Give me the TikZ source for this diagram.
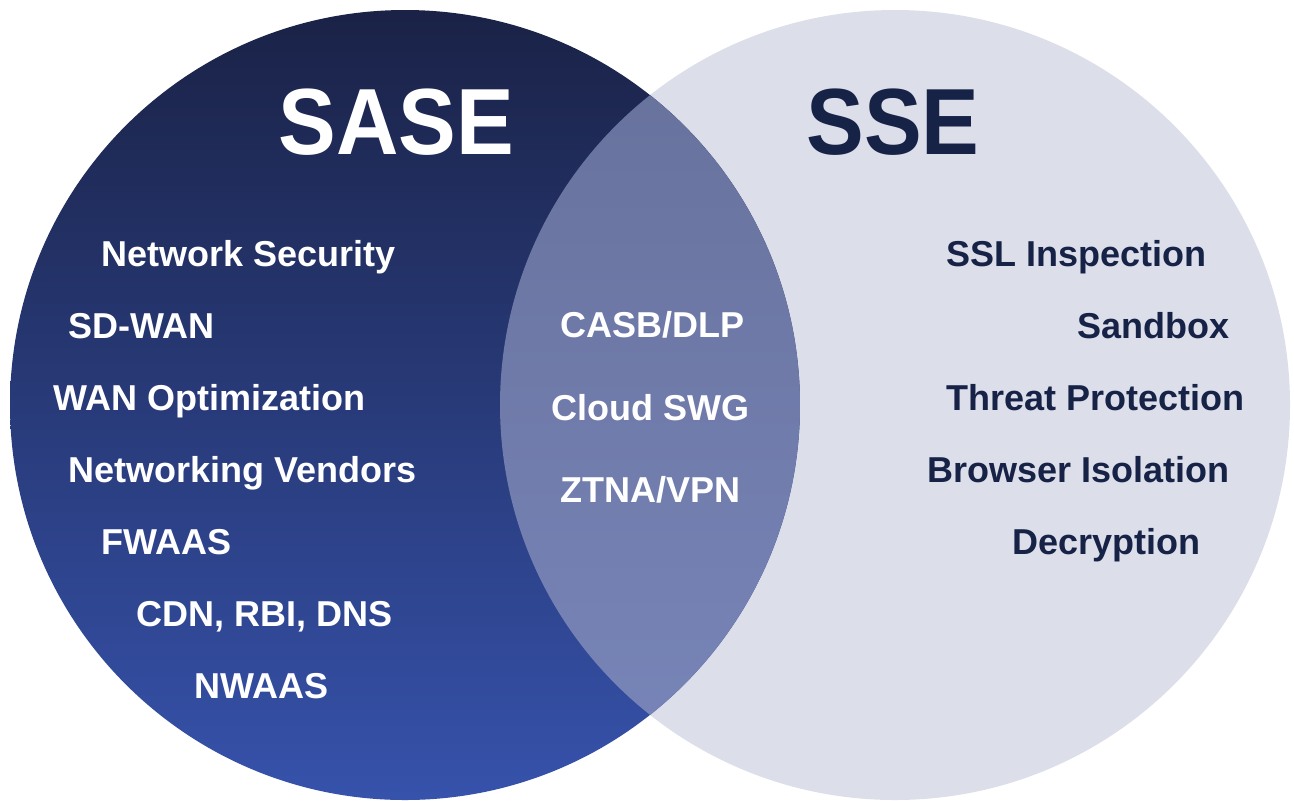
\documentclass[tikz,border=0pt]{standalone}
\usepackage{fontspec}
\setmainfont{Liberation Sans}
\newfontfamily\titlefont[FakeStretch=0.92]{Liberation Sans}
\usetikzlibrary{positioning}

\definecolor{saseTop}{HTML}{1A2246}
\definecolor{saseBot}{HTML}{3652AB}
\definecolor{midTop}{HTML}{66709A}
\definecolor{midBot}{HTML}{7986BA}
\definecolor{sseFill}{HTML}{DCDEEA}
\definecolor{sseText}{HTML}{172247}

\tikzset{
  item/.style={anchor=base west, inner sep=0pt, font=\bfseries\fontsize{18}{20}\selectfont},
  title/.style={anchor=base west, inner sep=0pt, font=\titlefont\bfseries\fontsize{47}{50}\selectfont},
}

\begin{document}
\begin{tikzpicture}[x=0.5pt, y=-0.5pt]
  \useasboundingbox (0,0) rectangle (1294,800);
  \coordinate (cl) at (405,405);
  \coordinate (cr) at (895,405);

  % the two sets
  \fill[sseFill] (cr) circle[radius=395];
  \shade[top color=saseTop, bottom color=saseBot] (cl) circle[radius=395];
  \begin{scope}
    \clip (cl) circle[radius=395];
    \shade[top color=midTop, bottom color=midBot] (cr) circle[radius=395];
  \end{scope}

  % titles
  \node[title, text=white] (sase) at (278,154) {SASE};
  \node[title, text=sseText] (sse) at (806,154) {SSE};

  % SASE only
  \node[item, text=white] (netsec) at (101,266) {Network Security};
  \node[item, text=white] (sdwan) at (68,338) {SD-WAN};
  \node[item, text=white] (wanopt) at (53,410) {WAN Optimization};
  \node[item, text=white] (vendors) at (68,482) {Networking Vendors};
  \node[item, text=white] (fwaas) at (101,554) {FWAAS};
  \node[item, text=white] (cdn) at (136,626) {CDN, RBI, DNS};
  \node[item, text=white] (nwaas) at (194,698) {NWAAS};

  % both
  \node[item, text=white] (casb) at (560,337) {CASB/DLP};
  \node[item, text=white] (swg) at (551,420) {Cloud SWG};
  \node[item, text=white] (ztna) at (560,502) {ZTNA/VPN};

  % SSE only
  \node[item, text=sseText] (ssl) at (946,266) {SSL Inspection};
  \node[item, text=sseText] (sandbox) at (1077,338) {Sandbox};
  \node[item, text=sseText] (threat) at (946,410) {Threat Protection};
  \node[item, text=sseText] (browser) at (927,482) {Browser Isolation};
  \node[item, text=sseText] (decrypt) at (1012,554) {Decryption};
\end{tikzpicture}
\end{document}
